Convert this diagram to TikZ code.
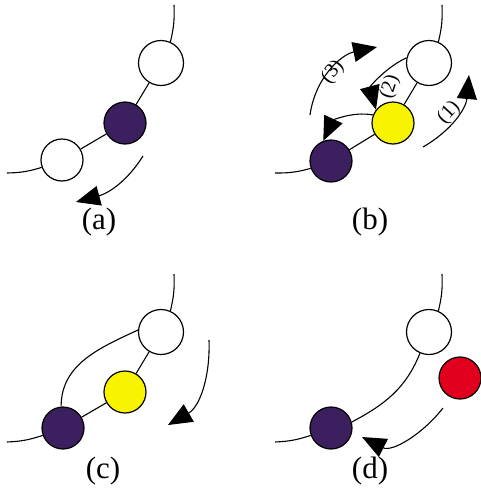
\documentclass[tikz,border=0pt]{standalone}
\usepackage{fontspec}
\setmainfont{Liberation Serif}
\usetikzlibrary{arrows.meta}

\definecolor{beadpurple}{RGB}{60,31,94}
\definecolor{beadyellow}{RGB}{248,244,0}
\definecolor{beadred}{RGB}{224,0,30}

\tikzset{
  bead/.style={circle,draw,line width=1.2pt,inner sep=0pt,minimum size=42pt},
  bigbead/.style={bead,fill=white,minimum size=45pt},
  strand/.style={line width=1.1pt},
  move/.style={line width=1.1pt,-{Triangle[length=24pt,width=20pt]}},
  steplabel/.style={font=\fontsize{20}{20}\selectfont,inner sep=0pt},
  panellabel/.style={font=\fontsize{31}{31}\selectfont,inner sep=0pt}
}

\begin{document}
\begin{tikzpicture}[x=1pt,y=-1pt]
\useasboundingbox (0,0) rectangle (480,488);

% beads
\node[bigbead] (a-top) at (161,63) {};
\node[bead,fill=beadpurple] (a-mid) at (125,123) {};
\node[bead,fill=white] (a-low) at (62,160) {};

\node[bigbead] (b-top) at (429,63) {};
\node[bead,fill=beadyellow] (b-mid) at (393,123) {};
\node[bead,fill=beadpurple] (b-low) at (331,161) {};

\node[bigbead] (c-top) at (161,332) {};
\node[bead,fill=beadyellow] (c-mid) at (125,392) {};
\node[bead,fill=beadpurple] (c-low) at (63,428) {};

\node[bigbead] (d-top) at (429,332) {};
\node[bead,fill=beadred] (d-red) at (460,378) {};
\node[bead,fill=beadpurple] (d-low) at (331,428) {};

% strands
\foreach \p/\dx/\dy in {a/0/0,b/268/0,c/0/269,d/268/269} {
  \coordinate (\p-end1) at (174+\dx,5+\dy);
  \coordinate (\p-end2) at (7+\dx,173+\dy);
  \draw[strand] (\p-end1) to[bend left=8] (\p-top.66);
  \draw[strand] (\p-end2) to[bend right=8] (\p-low.200);
}
\foreach \p in {a,b,c} {
  \draw[strand] (\p-top) -- (\p-mid);
  \draw[strand] (\p-mid) -- (\p-low);
}
\draw[strand] (c-top.175) to[out=205,in=90] (c-low.95);
\draw[strand] (d-top.-113) to[out=-112,in=28] (d-low.16);

% moves
\coordinate (a-from) at (143,156);
\coordinate (a-to) at (76,202);
\draw[move] (a-from) to[out=-122,in=15] (a-to);

\coordinate (b1-from) at (423,147);
\coordinate (b1-to) at (469,75);
\coordinate (b3-from) at (310,115);
\coordinate (b3-to) at (377,47);
\draw[move] (b1-from) to[out=30,in=-95] (b1-to);
\draw[move] (b-top.167) to[out=205,in=105] (b-mid.142);
\draw[move] (b-mid.158) to[out=170,in=65] (b-low.111);
\draw[move] (b3-from) to[out=82,in=192] (b3-to);
\node[steplabel,rotate=47] (s1) at (449,113) {(1)};
\node[steplabel,rotate=72] (s2) at (390,87) {(2)};
\node[steplabel,rotate=50] (s3) at (333,72) {(3)};

\coordinate (c-from) at (209,340);
\coordinate (c-to) at (168,425);
\draw[move] (c-from) to[out=-88,in=30] (c-to);

\coordinate (d-from) at (443,408);
\coordinate (d-to) at (362,437);
\draw[move] (d-from) to[out=-128,in=-27] (d-to);

% panel labels
\node[panellabel] (la) at (99,222) {(a)};
\node[panellabel] (lb) at (370,222) {(b)};
\node[panellabel] (lc) at (103,471) {(c)};
\node[panellabel] (ld) at (370,471) {(d)};
\end{tikzpicture}
\end{document}
